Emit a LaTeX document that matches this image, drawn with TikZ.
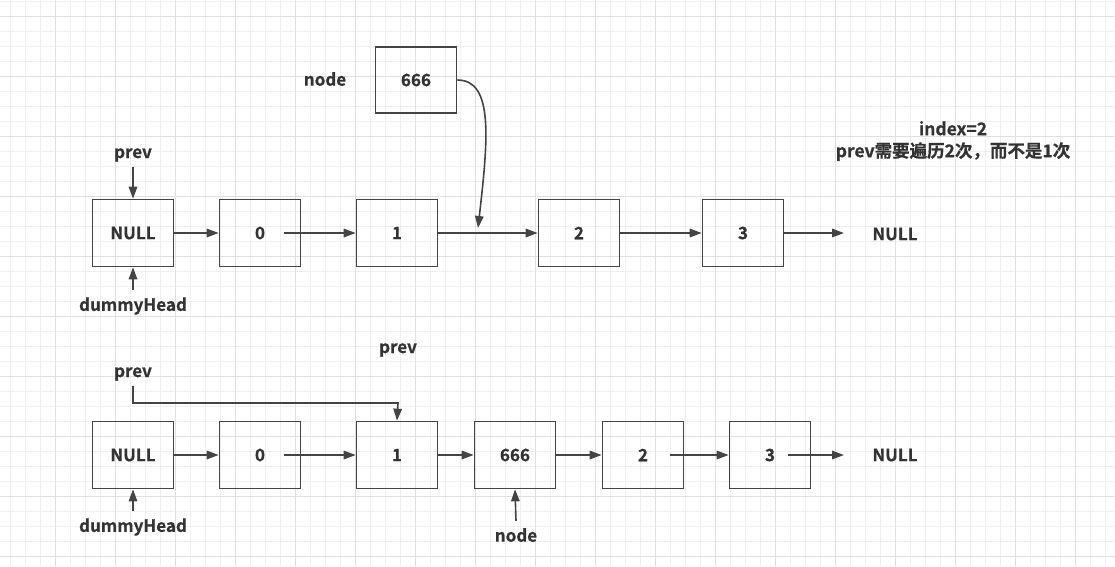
\documentclass[tikz,border=0pt]{standalone}
\usepackage{fontspec}
\setmainfont{Noto Sans CJK SC}[BoldFont={Noto Sans CJK SC Bold},BoldFeatures={FakeBold=0.6}]
\usetikzlibrary{arrows.meta,calc}
\definecolor{ln}{HTML}{444444}
\definecolor{tx}{HTML}{333333}
\definecolor{gminor}{HTML}{EFEFEF}
\definecolor{gmajor}{HTML}{E0E0E0}
\tikzset{
  box/.style={draw=ln, line width=1.7pt, minimum width=81pt, minimum height=67pt, text=tx, font=\fontsize{17}{20}\selectfont\bfseries, inner sep=0pt},
  lbl/.style={text=tx, font=\fontsize{17}{20}\selectfont\bfseries, inner sep=0pt},
  arr/.style={draw=ln, line width=1.6pt, -{Triangle[length=12pt,width=8.5pt]}},
}
\begin{document}
\begin{tikzpicture}[x=1pt,y=-1pt]
\useasboundingbox (0,0) rectangle (1115,566);
\fill[white] (0,0) rectangle (1115,566);
% grid
\foreach \k in {0,...,74} {\draw[gminor, line width=1pt] (10.5+15*\k,0) -- (10.5+15*\k,566);}
\foreach \k in {0,...,37} {\draw[gminor, line width=1pt] (0,1+15*\k) -- (1115,1+15*\k);}
\foreach \k in {0,...,17} {\draw[gmajor, line width=1pt] (55.5+60*\k,0) -- (55.5+60*\k,566);}
\foreach \k in {0,...,9} {\draw[gmajor, line width=1pt] (0,16+60*\k) -- (1115,16+60*\k);}

% ---- top row ----
\node[box] (tN) at (133,233) {NULL};
\node[box] (t0) at (260,233) {0};
\node[box] (t1) at (397,233) {1};
\node[box] (t2) at (579,233) {2};
\node[box] (t3) at (743,233) {3};
\node[lbl] (tEnd) at (895,234) {NULL};
\node[box, minimum height=66pt] (tX) at (416,80) {666};
\node[lbl] (tXl) at (325,79) {node};
\node[lbl] (tP) at (133,155) {prev};
\node[lbl] (tD) at (133,306) {dummyHead};
\node[lbl, align=center, font=\fontsize{17.5}{22}\selectfont\bfseries] (note) at (953,141) {index=2\\prev需要遍历2次，而不是1次};

\draw[arr] (tN.east) -- (t0.west);
\draw[arr] ($(t0.center)+(24,0)$) -- (t1.west);
\draw[arr] (t1.east) -- (t2.west);
\draw[arr] (t2.east) -- (t3.west);
\draw[arr] (t3.east) -- (844,233) coordinate (tNe);
\coordinate (ins) at (478,228);
\draw[arr] (tX.east) .. controls (494,80) and (488,140) .. (ins);
\draw[arr] ($(tP.south)+(0,5)$) -- (tN.north);
\draw[arr] ($(tD.north)+(0,-7)$) -- (tN.south);

% ---- bottom row ----
\node[box] (bN) at (133,455) {NULL};
\node[box] (b0) at (260,455) {0};
\node[box] (b1) at (397,455) {1};
\node[box] (bX) at (515,455) {666};
\node[box] (b2) at (643,455) {2};
\node[box] (b3) at (770,455) {3};
\node[lbl] (bEnd) at (895,455) {NULL};
\node[lbl] (bP) at (133,374) {prev};
\node[lbl] (bP2) at (398,350) {prev};
\node[lbl] (bD) at (133,527) {dummyHead};
\node[lbl] (bXl) at (516,535) {node};

\draw[arr] (bN.east) -- (b0.west);
\draw[arr] ($(b0.center)+(24,0)$) -- (b1.west);
\draw[arr] (b1.east) -- (bX.west);
\draw[arr] (bX.east) -- (b2.west);
\draw[arr] ($(b2.center)+(27,0)$) -- (b3.west);
\draw[arr] ($(b3.center)+(18,0)$) -- (844,455) coordinate (bNe);
\draw[arr] ($(bP.south)+(0,5)$) |- (398,403) -- (b1.north);
\draw[arr] ($(bD.north)+(0,-7)$) -- (bN.south);
\draw[arr] ($(bXl.north)+(0,-7)$) -- (bX.south);
\end{tikzpicture}
\end{document}
